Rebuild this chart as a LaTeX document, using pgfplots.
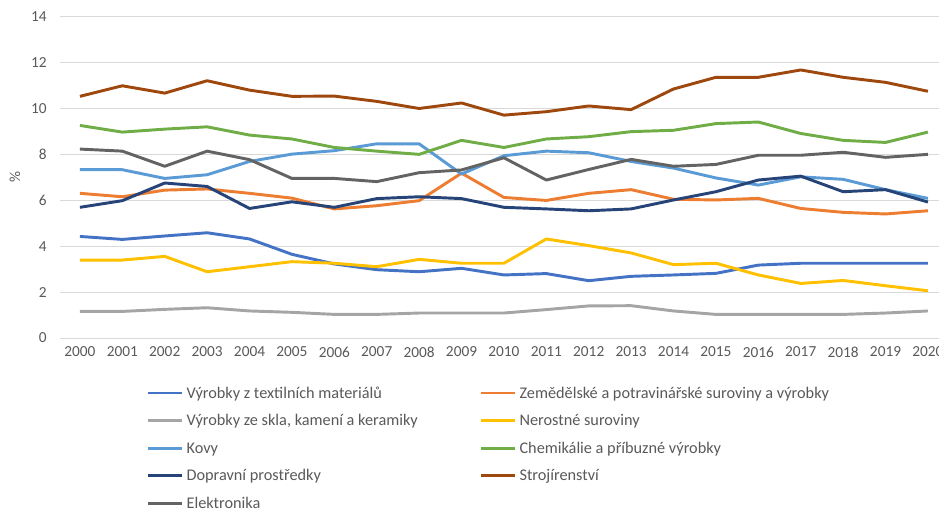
\documentclass[border=0pt]{standalone}
\usepackage{pgfplots}
\pgfplotsset{compat=1.18}
\usepackage{fontspec}
\setmainfont{Carlito}
\definecolor{cTex}{HTML}{4472C4}
\definecolor{cZem}{HTML}{ED7D31}
\definecolor{cSkl}{HTML}{A5A5A5}
\definecolor{cNer}{HTML}{FFC000}
\definecolor{cKov}{HTML}{5B9BD5}
\definecolor{cChe}{HTML}{70AD47}
\definecolor{cDop}{HTML}{264478}
\definecolor{cStr}{HTML}{9E480E}
\definecolor{cEle}{HTML}{636363}
\definecolor{cTxt}{HTML}{595959}
\definecolor{cGrid}{HTML}{D9D9D9}
\begin{document}
\begin{tikzpicture}
\begin{axis}[
  name=ax,
  scale only axis,
  width=666.8pt, height=240.75pt,
  xmin=1999.53, xmax=2020.5,
  ymin=0, ymax=14,
  xtick={2000,2001,...,2020},
  ytick={0,2,...,14},
  ymajorgrids,
  major grid style={cGrid, line width=0.75pt},
  axis line style={draw=none},
  major tick length=0pt,
  tick style={draw=none},
  font=\fontsize{11.5}{13}\selectfont,
  ticklabel style={text=cTxt, font=\fontsize{11.5}{13}\selectfont},
  /pgf/number format/assume math mode=true,
  /pgf/number format/1000 sep={},
  yticklabel style={xshift=-6.5pt},
  xticklabel style={yshift=-3pt},
  ylabel={\%},
  every axis y label/.style={at={(axis description cs:0,0.5)}, xshift=-33.75pt, rotate=90, anchor=center, text=cTxt},
  every axis plot/.append style={line width=2.2pt, line join=round},
  legend columns=2,
  legend cell align=left,
  legend image code/.code={\draw[#1, line width=2.2pt] (0pt,0pt) -- (25.5pt,0pt);},
  legend style={draw=none, fill=none, inner sep=0pt, outer sep=0pt,
    at={(axis description cs:0,0)}, anchor=north west, xshift=65.25pt, yshift=-36.5pt,
    text=cTxt, font=\fontsize{12.2}{14}\selectfont,
    nodes={inner sep=0pt, text height=8.5pt, text depth=1pt},
    row sep=11.2pt,
    /tikz/every odd column/.append style={column sep=2pt}},
]
\addplot[cTex] coordinates {(2000,4.43)(2001,4.30)(2002,4.45)(2003,4.59)(2004,4.32)(2005,3.65)(2006,3.23)(2007,2.98)(2008,2.89)(2009,3.04)(2010,2.75)(2011,2.81)(2012,2.50)(2013,2.69)(2014,2.75)(2015,2.82)(2016,3.18)(2017,3.26)(2018,3.26)(2019,3.26)(2020,3.26)};
\addlegendentry{\makebox[220pt][l]{Výrobky z textilních materiálů}}
\addplot[cZem] coordinates {(2000,6.31)(2001,6.16)(2002,6.45)(2003,6.50)(2004,6.31)(2005,6.10)(2006,5.63)(2007,5.77)(2008,5.99)(2009,7.19)(2010,6.13)(2011,6.00)(2012,6.31)(2013,6.47)(2014,6.05)(2015,6.02)(2016,6.09)(2017,5.65)(2018,5.48)(2019,5.41)(2020,5.55)};
\addlegendentry{Zemědělské a potravinářské suroviny a výrobky}
\addplot[cSkl] coordinates {(2000,1.16)(2001,1.16)(2002,1.25)(2003,1.32)(2004,1.18)(2005,1.12)(2006,1.03)(2007,1.03)(2008,1.09)(2009,1.09)(2010,1.09)(2011,1.24)(2012,1.40)(2013,1.41)(2014,1.18)(2015,1.03)(2016,1.03)(2017,1.03)(2018,1.03)(2019,1.09)(2020,1.18)};
\addlegendentry{\makebox[220pt][l]{Výrobky ze skla, kamení a keramiky}}
\addplot[cNer] coordinates {(2000,3.40)(2001,3.40)(2002,3.56)(2003,2.89)(2004,3.11)(2005,3.33)(2006,3.26)(2007,3.11)(2008,3.43)(2009,3.26)(2010,3.26)(2011,4.32)(2012,4.03)(2013,3.71)(2014,3.20)(2015,3.26)(2016,2.75)(2017,2.38)(2018,2.51)(2019,2.28)(2020,2.06)};
\addlegendentry{Nerostné suroviny}
\addplot[cKov] coordinates {(2000,7.34)(2001,7.34)(2002,6.96)(2003,7.12)(2004,7.70)(2005,8.02)(2006,8.17)(2007,8.47)(2008,8.47)(2009,7.15)(2010,7.95)(2011,8.15)(2012,8.08)(2013,7.70)(2014,7.41)(2015,6.98)(2016,6.67)(2017,7.03)(2018,6.92)(2019,6.47)(2020,6.09)};
\addlegendentry{\makebox[220pt][l]{Kovy}}
\addplot[cChe] coordinates {(2000,9.27)(2001,8.98)(2002,9.11)(2003,9.21)(2004,8.85)(2005,8.68)(2006,8.31)(2007,8.15)(2008,8.01)(2009,8.62)(2010,8.31)(2011,8.68)(2012,8.78)(2013,9.00)(2014,9.06)(2015,9.35)(2016,9.42)(2017,8.92)(2018,8.62)(2019,8.53)(2020,8.98)};
\addlegendentry{Chemikálie a příbuzné výrobky}
\addplot[cDop] coordinates {(2000,5.70)(2001,5.99)(2002,6.76)(2003,6.61)(2004,5.65)(2005,5.94)(2006,5.70)(2007,6.08)(2008,6.16)(2009,6.08)(2010,5.70)(2011,5.63)(2012,5.55)(2013,5.63)(2014,6.02)(2015,6.38)(2016,6.89)(2017,7.06)(2018,6.38)(2019,6.47)(2020,5.93)};
\addlegendentry{\makebox[220pt][l]{Dopravní prostředky}}
\addplot[cStr] coordinates {(2000,10.54)(2001,11.00)(2002,10.68)(2003,11.22)(2004,10.81)(2005,10.54)(2006,10.55)(2007,10.32)(2008,10.01)(2009,10.25)(2010,9.72)(2011,9.87)(2012,10.12)(2013,9.96)(2014,10.86)(2015,11.37)(2016,11.37)(2017,11.69)(2018,11.37)(2019,11.15)(2020,10.76)};
\addlegendentry{Strojírenství}
\addplot[cEle] coordinates {(2000,8.24)(2001,8.15)(2002,7.49)(2003,8.15)(2004,7.78)(2005,6.96)(2006,6.96)(2007,6.82)(2008,7.21)(2009,7.33)(2010,7.86)(2011,6.89)(2012,7.35)(2013,7.79)(2014,7.49)(2015,7.57)(2016,7.97)(2017,7.97)(2018,8.10)(2019,7.88)(2020,8.01)};
\addlegendentry{\makebox[220pt][l]{Elektronika}}
\end{axis}
\pgfresetboundingbox
\path[use as bounding box] ([xshift=-45pt,yshift=-130.5pt]ax.south west) rectangle ([xshift=-7.6pt,yshift=12.75pt]ax.north east);
\end{tikzpicture}
\end{document}
